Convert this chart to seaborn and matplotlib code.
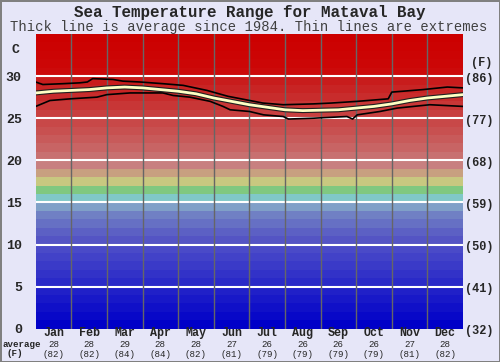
import numpy as np
import pandas as pd
import matplotlib
matplotlib.use("Agg")
import matplotlib.pyplot as plt
import seaborn as sns

# ---- data ----
months = ["Jan", "Feb", "Mar", "Apr", "May", "Jun",
          "Jul", "Aug", "Sep", "Oct", "Nov", "Dec"]
month_avg_c = ["28", "28", "29", "28", "28", "27", "26", "26", "26", "26", "27", "28"]
month_avg_f = ["(82)", "(82)", "(84)", "(84)", "(82)", "(81)",
               "(79)", "(79)", "(79)", "(79)", "(81)", "(82)"]

# x in months since 1 Jan, y in degrees C
avg_x = [0.0, 0.5, 1.0, 1.5, 2.0, 2.5, 3.0, 3.5, 4.0, 4.5, 5.0, 5.5, 6.0,
         6.5, 7.0, 7.5, 8.0, 8.5, 9.0, 9.5, 10.0, 10.5, 11.0, 11.5, 12.0]
avg_y = [28.0, 28.2, 28.3, 28.4, 28.6, 28.7, 28.6, 28.4, 28.2, 27.9, 27.4, 27.0, 26.6,
         26.3, 26.0, 25.9, 25.95, 26.0, 26.2, 26.4, 26.7, 27.1, 27.4, 27.6, 27.8]

max_x = [0.0, 0.2, 0.77, 1.24, 1.45, 1.6, 2.17, 2.45, 2.93, 3.57, 4.14, 4.81,
         5.4, 6.38, 6.95, 7.8, 8.3, 9.03, 9.9, 10.0, 10.3, 10.88, 11.56, 12.0]
max_y = [29.3, 29.0, 29.1, 29.2, 29.3, 29.7, 29.6, 29.4, 29.3, 29.1, 28.9, 28.3,
         27.6, 26.8, 26.6, 26.7, 26.8, 27.0, 27.3, 28.1, 28.2, 28.4, 28.7, 28.6]

min_x = [0.0, 0.4, 0.97, 1.72, 2.0, 2.65, 3.57, 3.86, 4.33, 4.9, 5.26, 5.46,
         6.0, 6.4, 6.95, 7.1, 7.8, 8.74, 8.9, 9.03, 9.67, 10.15, 11.07, 12.0]
min_y = [26.4, 27.1, 27.3, 27.5, 27.8, 28.0, 28.0, 27.7, 27.5, 27.0, 26.4, 26.0,
         25.8, 25.4, 25.2, 24.9, 25.0, 25.2, 24.9, 25.4, 25.8, 26.2, 26.6, 26.4]

c_ticks = [0, 5, 10, 15, 20, 25, 30]
f_labels = ["(32)", "(41)", "(50)", "(59)", "(68)", "(77)", "(86)"]

# one colour per degree band, 0-1 C upwards
band_colors = [
    "#0000c8", "#0808c8", "#1010c8", "#1818c8", "#2020c8",
    "#2a2ac8", "#3232c8", "#3a3ac8", "#4242c8", "#4a4ac8",
    "#5454c4", "#5c60c4", "#6670c4", "#7080c4", "#80a0c8",
    "#80c8c8", "#80c880", "#c8c880", "#c8a080", "#c88080",
    "#c87070", "#c86464", "#c85a5a", "#c85050", "#c84848",
    "#c84040", "#c83636", "#c82c2c", "#c82424", "#c81c1c",
    "#cc0a0a", "#cc0606", "#cc0404", "#cc0202", "#cc0000",
]

sns.set_style("white")
plt.rcParams["font.family"] = ["Liberation Mono", "DejaVu Sans Mono"]

bg = "#e6e6f8"
fig = plt.figure(figsize=(5.0, 3.62), dpi=100, facecolor=bg,
                 edgecolor="#808080", linewidth=1.0)
ax = fig.add_axes([35.7 / 500, 33.3 / 362, 427.3 / 500, 294.7 / 362])

# coloured temperature bands
for i, col in enumerate(band_colors):
    ax.axhspan(i, i + 1, color=col, lw=0, zorder=0)

# grid
for t in c_ticks[1:]:
    ax.axhline(t, color="white", lw=1.5, zorder=1)
for m in range(1, 12):
    ax.axvline(m, color="#666666", lw=1.0, zorder=1)

df_max = pd.DataFrame({"x": max_x, "y": max_y})
df_min = pd.DataFrame({"x": min_x, "y": min_y})
df_avg = pd.DataFrame({"x": avg_x, "y": avg_y})

sns.lineplot(data=df_max, x="x", y="y", ax=ax, color="black", lw=1.2,
             estimator=None, sort=False, zorder=3)
sns.lineplot(data=df_min, x="x", y="y", ax=ax, color="black", lw=1.2,
             estimator=None, sort=False, zorder=3)
sns.lineplot(data=df_avg, x="x", y="y", ax=ax, color="#202020", lw=3.6,
             estimator=None, sort=False, zorder=4)
sns.lineplot(data=df_avg, x="x", y="y", ax=ax, color="#ffffc4", lw=2.0,
             estimator=None, sort=False, zorder=5)

ax.set_xlim(0, 12)
ax.set_ylim(0, 35)
ax.set_xlabel("")
ax.set_ylabel("")
ax.set_xticks([])
ax.set_yticks(c_ticks)
ax.set_yticklabels([str(t) for t in c_ticks], fontsize=9.5, fontweight="bold")
ax.tick_params(axis="y", length=0, pad=10)
for s in ax.spines.values():
    s.set_visible(False)

# right hand Fahrenheit labels
ytr = ax.get_yaxis_transform()
for t, lab in zip(c_ticks, f_labels):
    ax.text(1.005, t - 0.3, lab, transform=ytr, ha="left", va="center",
            fontsize=8.6, fontweight="bold", clip_on=False)
fig.text(482 / 500, 1 - 63 / 362, "(F)", ha="center", va="center",
         fontsize=8.6, fontweight="bold")
fig.text(15 / 500, 1 - 50 / 362, "C", ha="center", va="center",
         fontsize=9.5, fontweight="bold")

# month labels with monthly averages
xtr = ax.get_xaxis_transform()
for i, (mn, c, f) in enumerate(zip(months, month_avg_c, month_avg_f)):
    ax.text(i + 0.5, -0.0146, mn, transform=xtr, ha="center", va="center",
            fontsize=8.4, fontweight="bold", clip_on=False)
    ax.text(i + 0.5, -0.0545, c, transform=xtr, ha="center", va="center",
            fontsize=6.6, clip_on=False)
    ax.text(i + 0.5, -0.0865, f, transform=xtr, ha="center", va="center",
            fontsize=6.6, clip_on=False)
fig.text(22 / 500, 1 - 344.5 / 362, "average", ha="center", va="center",
         fontsize=6.6, fontweight="bold")
fig.text(15 / 500, 1 - 354 / 362, "(F)", ha="center", va="center",
         fontsize=6.6, fontweight="bold")

fig.text(0.5, 1 - 12 / 362, "Sea Temperature Range for Mataval Bay",
         ha="center", va="center", fontsize=11.4, fontweight="bold")
fig.text(0.497, 1 - 27 / 362,
         "Thick line is average since 1984. Thin lines are extremes",
         ha="center", va="center", fontsize=10, color="#404040")

fig.savefig("out.png", dpi=100, facecolor=bg, edgecolor="#808080")
